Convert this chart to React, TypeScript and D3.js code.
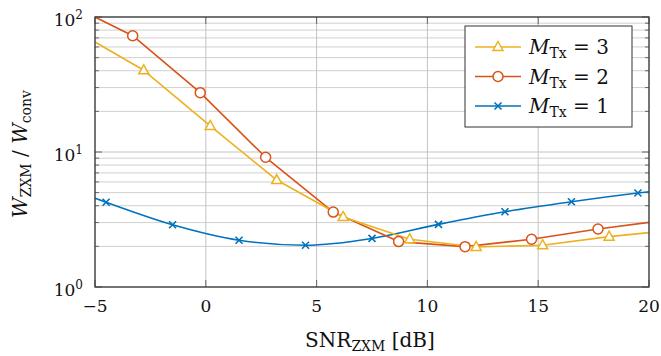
import React from "react";
import * as d3 from "d3";

// values (x in dB, y as ratio)
const xTicks = [-5, 0, 5, 10, 15, 20];
const yMajor = [1, 10, 100];
const yMinor = [2, 3, 4, 5, 6, 7, 8, 9, 20, 30, 40, 50, 60, 70, 80, 90];

const m3X = [-5, -2.8, 0.2, 3.2, 6.2, 9.2, 12.2, 15.2, 18.2, 20];
const m3Y = [65.3, 40.3, 15.6, 6.2, 3.3, 2.26, 1.98, 2.04, 2.36, 2.53];
const m2X = [-5, -3.3, -0.25, 2.7, 5.75, 8.7, 11.7, 14.7, 17.7, 20];
const m2Y = [100, 72.7, 27.5, 9.14, 3.59, 2.17, 1.99, 2.26, 2.69, 3.01];
const m1X = [-5, -4.5, -1.5, 1.5, 4.5, 7.5, 10.5, 13.5, 16.5, 19.5, 20];
const m1Y = [4.54, 4.24, 2.89, 2.22, 2.04, 2.29, 2.91, 3.61, 4.28, 4.97, 5.08];

const legendLabels = ["3", "2", "1"];

type Mark = "triangle" | "circle" | "cross";

const series: { xs: number[]; ys: number[]; color: string; mark: Mark; smooth: boolean }[] = [
    { xs: m1X, ys: m1Y, color: "#0072BD", mark: "cross", smooth: true },
    { xs: m2X, ys: m2Y, color: "#D95319", mark: "circle", smooth: false },
    { xs: m3X, ys: m3Y, color: "#EDB120", mark: "triangle", smooth: false },
];

const width = 661;
const height = 356;
const marginLeft = 95;
const marginRight = 12;
const marginTop = 17;
const marginBottom = 69;
const font = "DejaVu Serif, Liberation Serif, Times New Roman, serif";

function Marker({ kind, x, y, color }: { kind: Mark; x: number; y: number; color: string }) {
    if (kind === "circle") {
        return <circle cx={x} cy={y} r={5} fill="white" stroke={color} strokeWidth={1.5} />;
    }
    if (kind === "triangle") {
        const p = d3.path();
        p.moveTo(x, y - 5.5);
        p.lineTo(x + 5, y + 3.5);
        p.lineTo(x - 5, y + 3.5);
        p.closePath();
        return <path d={p.toString()} fill="white" stroke={color} strokeWidth={1.5} />;
    }
    const s = 3.5;
    return (
        <path
            d={`M${x - s},${y - s}L${x + s},${y + s}M${x - s},${y + s}L${x + s},${y - s}`}
            stroke={color}
            strokeWidth={1.6}
            fill="none"
        />
    );
}

export default function App() {
    const x = d3.scaleLinear().domain([-5, 20]).range([marginLeft, width - marginRight]);
    const y = d3.scaleLog().domain([1, 100]).range([height - marginBottom, marginTop]);
    const [x0, x1] = x.range();
    const [y0, y1] = y.range();

    const line = (smooth: boolean) => d3.line<[number, number]>()
        .x(d => x(d[0]))
        .y(d => y(d[1]))
        .curve(smooth ? d3.curveMonotoneX : d3.curveLinear);

    const legendX = 465;
    const legendY = 26;
    const legendRows = [
        { color: "#EDB120", mark: "triangle" as Mark, label: legendLabels[0] },
        { color: "#D95319", mark: "circle" as Mark, label: legendLabels[1] },
        { color: "#0072BD", mark: "cross" as Mark, label: legendLabels[2] },
    ];

    return (
        <svg width={width} height={height} style={{ position: "absolute", left: 0, top: 0, background: "white", fontFamily: font }}>
            <defs>
                <clipPath id="plot-clip">
                    <rect x={x0} y={y1} width={x1 - x0} height={y0 - y1} />
                </clipPath>
            </defs>

            {/* grid */}
            <g stroke="#d0d0d0" strokeWidth={1}>
                {yMinor.map(v => (
                    <line key={"ym" + v} x1={x0} x2={x1} y1={y(v)} y2={y(v)} />
                ))}
                {yMajor.map(v => (
                    <line key={"yM" + v} x1={x0} x2={x1} y1={y(v)} y2={y(v)} stroke="#c4c4c4" />
                ))}
                {xTicks.map(v => (
                    <line key={"x" + v} x1={x(v)} x2={x(v)} y1={y0} y2={y1} stroke="#c4c4c4" />
                ))}
            </g>

            {/* tick marks, inside */}
            <g stroke="#666" strokeWidth={1}>
                {xTicks.map(v => (
                    <g key={"xt" + v}>
                        <line x1={x(v)} x2={x(v)} y1={y0} y2={y0 - 7} />
                        <line x1={x(v)} x2={x(v)} y1={y1} y2={y1 + 7} />
                    </g>
                ))}
                {yMajor.map(v => (
                    <g key={"yt" + v}>
                        <line x1={x0} x2={x0 + 7} y1={y(v)} y2={y(v)} />
                        <line x1={x1} x2={x1 - 7} y1={y(v)} y2={y(v)} />
                    </g>
                ))}
                {yMinor.map(v => (
                    <g key={"ytm" + v}>
                        <line x1={x0} x2={x0 + 4} y1={y(v)} y2={y(v)} />
                        <line x1={x1} x2={x1 - 4} y1={y(v)} y2={y(v)} />
                    </g>
                ))}
            </g>

            {/* series */}
            <g clipPath="url(#plot-clip)">
                {series.map((s, i) => (
                    <path
                        key={"l" + i}
                        d={line(s.smooth)(s.xs.map((v, j) => [v, s.ys[j]] as [number, number]))!}
                        fill="none"
                        stroke={s.color}
                        strokeWidth={1.6}
                        strokeLinejoin="round"
                    />
                ))}
            </g>
            {series.map((s, i) => (
                <g key={"m" + i}>
                    {s.xs.slice(1, -1).map((v, j) => (
                        <Marker key={j} kind={s.mark} x={x(v)} y={y(s.ys[j + 1])} color={s.color} />
                    ))}
                </g>
            ))}

            {/* frame */}
            <rect x={x0} y={y1} width={x1 - x0} height={y0 - y1} fill="none" stroke="#3a3a3a" strokeWidth={1.3} />

            {/* x tick labels */}
            <g fontSize={17} textAnchor="middle" fill="#111">
                {xTicks.map(v => (
                    <text key={"xl" + v} x={x(v)} y={y0 + 25}>
                        {v < 0 ? "\u2212" + Math.abs(v) : v}
                    </text>
                ))}
            </g>

            {/* y tick labels */}
            <g fontSize={17} fill="#111">
                {yMajor.map(v => (
                    <text key={"yl" + v} x={x0 - 12} y={y(v) + 9} textAnchor="end">
                        10
                        <tspan dy={-7} fontSize={12}>{Math.round(Math.log10(v))}</tspan>
                    </text>
                ))}
            </g>

            {/* axis labels */}
            <text x={370} y={347} fontSize={20} textAnchor="middle" fill="#111">
                SNR
                <tspan dy={4} fontSize={14}>ZXM</tspan>
                <tspan dy={-4}> [dB]</tspan>
            </text>
            <text transform={`translate(27,154) rotate(-90)`} fontSize={20} textAnchor="middle" fill="#111">
                <tspan fontStyle="italic">W</tspan>
                <tspan dy={4} fontSize={14}>ZXM</tspan>
                <tspan dy={-4}> / </tspan>
                <tspan fontStyle="italic">W</tspan>
                <tspan dy={4} fontSize={14}>conv</tspan>
            </text>

            {/* legend */}
            <rect x={legendX} y={legendY} width={167} height={101} fill="white" stroke="#333" strokeWidth={1} />
            {legendRows.map((r, i) => {
                const ly = legendY + 21 + i * 29.5;
                return (
                    <g key={"lg" + i}>
                        <line x1={legendX + 10} x2={legendX + 56} y1={ly} y2={ly} stroke={r.color} strokeWidth={1.6} />
                        <Marker kind={r.mark} x={legendX + 33} y={ly} color={r.color} />
                        <text x={legendX + 64} y={ly + 7} fontSize={20} fill="#111">
                            <tspan fontStyle="italic">M</tspan>
                            <tspan dy={4} fontSize={14}>Tx</tspan>
                            <tspan dy={-4}> = {r.label}</tspan>
                        </text>
                    </g>
                );
            })}
        </svg>
    );
}
